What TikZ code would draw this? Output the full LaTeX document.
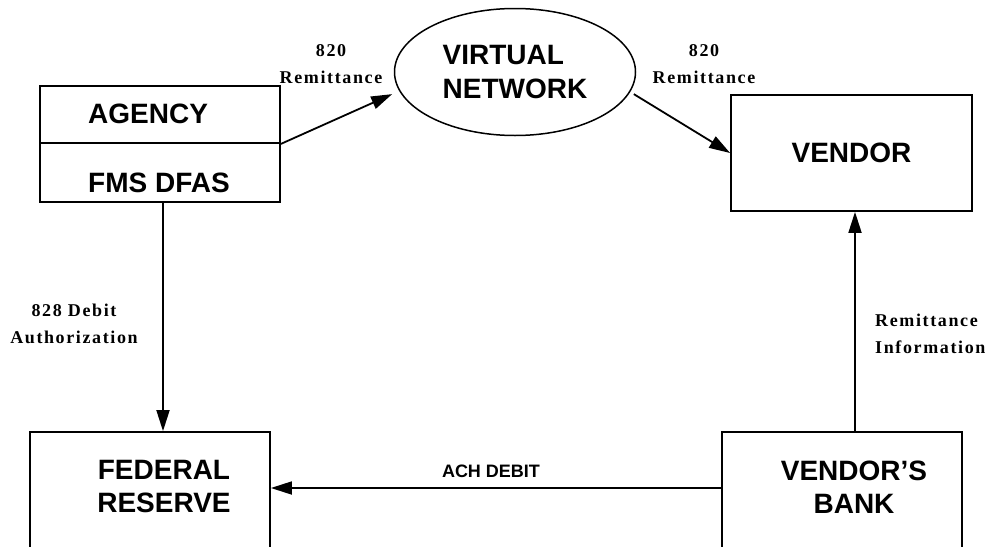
\documentclass[tikz,border=0pt]{standalone}
\usepackage{fontspec}
\setmainfont{Liberation Serif}
\setsansfont{Liberation Sans}
\newfontfamily\lblfont[LetterSpace=9]{Liberation Serif}
\usetikzlibrary{shapes.geometric,arrows.meta}
\tikzset{
  boxfont/.style={font=\sffamily\bfseries\fontsize{28}{33.5}\selectfont},
  lbl/.style={font=\lblfont\bfseries\fontsize{18}{27}\selectfont, inner sep=0pt, align=center},
  box/.style={draw, line width=1.8pt, rectangle, inner sep=0pt},
  flow/.style={line width=1.8pt, -{Triangle[length=21pt,width=13pt]}},
}
\begin{document}
\begin{tikzpicture}[x=1pt,y=-1pt]
\useasboundingbox (0,0) rectangle (990,546);
\fill[white] (0,0) rectangle (990,546);
\clip (0,0) rectangle (990,546);

% boxes
\node[box, minimum width=240pt, minimum height=57pt] (agency) at (160,114.5) {};
\node[box, minimum width=240pt, minimum height=59pt] (fms) at (160,172.5) {};
\node[boxfont, anchor=west, inner sep=0pt] (agencytxt) at (88,114) {AGENCY};
\node[boxfont, anchor=west, inner sep=0pt] (fmstxt) at (88,183) {FMS DFAS};

\node[draw, ellipse, line width=1.5pt, minimum width=241pt, minimum height=127pt,
      inner sep=0pt, boxfont, align=left] (vn) at (515,72) {VIRTUAL\\NETWORK};

\node[box, boxfont, minimum width=241pt, minimum height=116pt] (vendor) at (851.5,153) {VENDOR};

\node[box, minimum width=240pt, minimum height=130pt] (fed) at (150,497) {};
\node[boxfont, align=center, inner sep=0pt] (fedtxt) at (164,486.5) {FEDERAL\\RESERVE};

\node[box, minimum width=240pt, minimum height=130pt] (vbank) at (842,497) {};
\node[boxfont, align=center, inner sep=0pt] (vbanktxt) at (854,487) {VENDOR’S\\BANK};

% labels
\node[lbl] (l820a) at (331,64.5) {820\\Remittance};
\node[lbl] (l820b) at (704,64.5) {820\\Remittance};
\node[lbl] (l828) at (74,323.5) {828 Debit\\Authorization};
\node[lbl, align=left, anchor=west] (lrem) at (875,334) {Remittance\\Information};
\node[font=\sffamily\bfseries\fontsize{18}{22}\selectfont, inner sep=0pt, anchor=base] (lach) at (491,477) {ACH DEBIT};

% connectors
\draw[flow] (agency.south east) -- ([xshift=-9pt]vn.191);
\draw[flow] ([xshift=5pt]vn.-11) -- (vendor.west);
\draw[flow] ([xshift=3pt]fms.south) -- ([xshift=3pt]fms.south |- fed.north);
\draw[flow] ([yshift=9pt]vbank.west) -- ([yshift=9pt]vbank.west -| fed.east);
\draw[flow] ([xshift=13pt]vbank.north) -- ([xshift=13pt]vbank.north |- vendor.south);
\end{tikzpicture}
\end{document}
